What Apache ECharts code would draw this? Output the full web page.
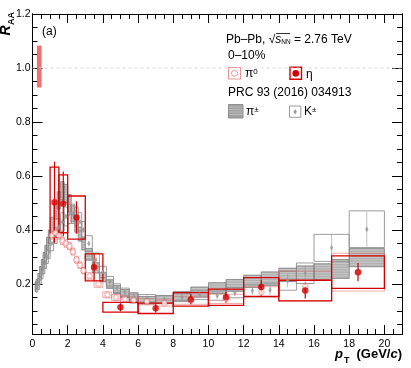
<!DOCTYPE html>
<html>
<head>
<meta charset="utf-8">
<title>RAA eta pi0 PbPb</title>
<script src="https://cdn.jsdelivr.net/npm/echarts@6.0.0/dist/echarts.min.js"></script>
<style>
html, body { margin: 0; padding: 0; background: #fff; }
#chart { width: 411px; height: 368px; }
</style>
</head>
<body>
<div id="chart"></div>
<script>
// eta meson (this measurement)
var etaLo = [1.0, 1.5, 2.0, 3.0, 4.0, 6.0, 8.0, 10.0, 12.0, 14.0, 17.0];
var etaHi = [1.5, 2.0, 3.0, 4.0, 6.0, 8.0, 10.0, 12.0, 14.0, 17.0, 20.0];
var etaR = [0.503, 0.497, 0.446, 0.262, 0.114, 0.110, 0.143, 0.151, 0.189, 0.176, 0.244];
var etaStat = [0.15, 0.12, 0.06, 0.05, 0.015, 0.015, 0.018, 0.02, 0.025, 0.03, 0.034];
var etaSys = [0.13, 0.107, 0.08, 0.05, 0.018, 0.019, 0.025, 0.03, 0.035, 0.038, 0.06];

// pi0
var pi0Lo = [1.0, 1.2, 1.4, 1.6, 1.8, 2.0, 2.2, 2.4, 2.6, 2.8, 3.0, 3.5, 4.0, 4.5, 5.0, 5.5, 6.0, 7.0, 8.0, 10.0, 12.0, 14.0, 17.0];
var pi0Hi = [1.2, 1.4, 1.6, 1.8, 2.0, 2.2, 2.4, 2.6, 2.8, 3.0, 3.5, 4.0, 4.5, 5.0, 5.5, 6.0, 7.0, 8.0, 10.0, 12.0, 14.0, 17.0, 20.0];
var pi0R = [0.38, 0.39, 0.38, 0.36, 0.35, 0.34, 0.32, 0.29, 0.27, 0.25, 0.23, 0.2, 0.16, 0.15, 0.145, 0.14, 0.135, 0.13, 0.14, 0.145, 0.17, 0.193, 0.244];
var pi0Sys = [0.014, 0.014, 0.014, 0.014, 0.014, 0.014, 0.013, 0.013, 0.012, 0.012, 0.012, 0.012, 0.011, 0.011, 0.011, 0.011, 0.012, 0.012, 0.015, 0.017, 0.02, 0.055, 0.07];

// charged pions, PRC 93 (2016) 034913
var piChLo = [0.15, 0.2, 0.3, 0.4, 0.5, 0.6, 0.7, 0.8, 0.9, 1.0, 1.2, 1.4, 1.6, 1.8, 2.0, 2.2, 2.4, 2.6, 2.8, 3.0, 3.4, 3.8, 4.2, 4.6, 5.0, 5.5, 6, 7, 8, 9, 10, 11, 12, 13, 14, 15, 16, 17, 18];
var piChHi = [0.2, 0.3, 0.4, 0.5, 0.6, 0.7, 0.8, 0.9, 1.0, 1.2, 1.4, 1.6, 1.8, 2.0, 2.2, 2.4, 2.6, 2.8, 3.0, 3.4, 3.8, 4.2, 4.6, 5.0, 5.5, 6, 7, 8, 9, 10, 11, 12, 13, 14, 15, 16, 17, 18, 20];
var piChR = [0.19, 0.20, 0.22, 0.245, 0.27, 0.295, 0.32, 0.35, 0.375, 0.42, 0.47, 0.51, 0.545, 0.535, 0.5, 0.46, 0.42, 0.385, 0.35, 0.31, 0.26, 0.225, 0.2, 0.18, 0.165, 0.15, 0.14, 0.142, 0.155, 0.17, 0.185, 0.195, 0.21, 0.22, 0.234, 0.24, 0.245, 0.256, 0.298];
var piChSys = [0.018, 0.018, 0.019, 0.02, 0.021, 0.022, 0.023, 0.024, 0.025, 0.027, 0.03, 0.032, 0.034, 0.034, 0.032, 0.03, 0.028, 0.026, 0.024, 0.022, 0.019, 0.017, 0.016, 0.015, 0.015, 0.014, 0.014, 0.015, 0.017, 0.019, 0.02, 0.022, 0.023, 0.025, 0.025, 0.027, 0.03, 0.035, 0.034];

// charged kaons, PRC 93 (2016) 034913
var kLo = [0.2, 0.3, 0.4, 0.5, 0.6, 0.7, 0.8, 0.9, 1.0, 1.2, 1.4, 1.6, 1.8, 2.0, 2.2, 2.4, 2.6, 2.8, 3.0, 3.4, 3.8, 4.2, 4.6, 5.0, 5.5, 6, 7, 8, 9, 10, 11, 12, 13, 14, 15, 16, 18];
var kHi = [0.3, 0.4, 0.5, 0.6, 0.7, 0.8, 0.9, 1.0, 1.2, 1.4, 1.6, 1.8, 2.0, 2.2, 2.4, 2.6, 2.8, 3.0, 3.4, 3.8, 4.2, 4.6, 5.0, 5.5, 6, 7, 8, 9, 10, 11, 12, 13, 14, 15, 16, 18, 20];
var kR = [0.19, 0.20, 0.22, 0.24, 0.26, 0.28, 0.30, 0.32, 0.35, 0.38, 0.41, 0.43, 0.45, 0.46, 0.46, 0.45, 0.43, 0.40, 0.35, 0.29, 0.245, 0.21, 0.185, 0.17, 0.155, 0.147, 0.143, 0.15, 0.159, 0.157, 0.168, 0.175, 0.178, 0.212, 0.24, 0.334, 0.403];
var kStat = [0.004, 0.004, 0.004, 0.004, 0.004, 0.004, 0.004, 0.004, 0.004, 0.004, 0.005, 0.005, 0.005, 0.005, 0.006, 0.006, 0.006, 0.007, 0.007, 0.007, 0.007, 0.007, 0.007, 0.007, 0.007, 0.007, 0.008, 0.009, 0.01, 0.011, 0.013, 0.015, 0.018, 0.025, 0.03, 0.05, 0.065];
var kSys = [0.02, 0.02, 0.02, 0.021, 0.022, 0.023, 0.024, 0.025, 0.027, 0.03, 0.032, 0.034, 0.035, 0.036, 0.036, 0.035, 0.034, 0.032, 0.029, 0.025, 0.021, 0.018, 0.016, 0.015, 0.014, 0.014, 0.014, 0.015, 0.016, 0.017, 0.019, 0.022, 0.025, 0.035, 0.038, 0.05, 0.068];

// normalisation uncertainty band at R_AA = 1
var normBand = [0.25, 0.52, 0.928, 1.083];

var xMajor = [0, 2, 4, 6, 8, 10, 12, 14, 16, 18, 20];
var yMajor = [0.2, 0.4, 0.6, 0.8, 1.0, 1.2];
var yMin = 0.015, yMax = 1.2;

var xMinor = [];
for (var i = 0; i <= 42; i++) xMinor.push(i * 0.5);
var yMinor = [];
for (var j = 1; j <= 24; j++) yMinor.push(j * 0.05);

function boxes(lo, hi, r, sys) {
    return r.map(function (v, k) { return [lo[k], hi[k], v - sys[k], v + sys[k]]; });
}
function points(lo, hi, r) {
    return r.map(function (v, k) { return [(lo[k] + hi[k]) / 2, v]; });
}
function bars(lo, hi, r, err) {
    return r.map(function (v, k) { return [(lo[k] + hi[k]) / 2, v - err[k], v + err[k]]; });
}

function boxItem(style, hatch) {
    return function (params, api) {
        var a = api.coord([api.value(0), api.value(3)]);
        var b = api.coord([api.value(1), api.value(2)]);
        var x = a[0], y = a[1], w = b[0] - a[0], h = b[1] - a[1];
        var kids = [{ type: 'rect', shape: { x: x, y: y, width: w, height: h }, style: style }];
        if (hatch) {
            for (var yy = y + 1.5; yy < y + h - 0.5; yy += 2.5) {
                kids.push({ type: 'line', shape: { x1: x + 0.5, y1: yy, x2: x + w - 0.5, y2: yy },
                    style: { stroke: 'rgba(255,255,255,0.3)', lineWidth: 1 } });
            }
        }
        return { type: 'group', children: kids };
    };
}
function barItem(color, width) {
    return function (params, api) {
        var a = api.coord([api.value(0), api.value(1)]);
        var b = api.coord([api.value(0), api.value(2)]);
        return { type: 'line', shape: { x1: a[0], y1: a[1], x2: b[0], y2: b[1] },
            style: { stroke: color, lineWidth: width } };
    };
}

function xAx(pos, vals, len, labels) {
    return {
        type: 'value', min: 0, max: 21, position: pos,
        axisLine: { show: true, onZero: false, lineStyle: { color: '#000', width: 1 } },
        splitLine: { show: false },
        axisTick: { show: true, inside: true, length: len, customValues: vals, lineStyle: { color: '#000' } },
        axisLabel: labels ? {
            customValues: xMajor, margin: 5, color: '#000', fontSize: 10.5,
            fontFamily: 'Liberation Sans'
        } : { show: false }
    };
}
function yAx(pos, vals, len, labels) {
    return {
        type: 'value', min: yMin, max: yMax, position: pos,
        axisLine: { show: true, onZero: false, lineStyle: { color: '#000', width: 1 } },
        splitLine: { show: false },
        axisTick: { show: true, inside: true, length: len, customValues: vals, lineStyle: { color: '#000' } },
        axisLabel: labels ? {
            customValues: yMajor, margin: 2, color: '#000', fontSize: 10.5,
            fontFamily: 'Liberation Sans',
            formatter: function (v) { return v.toFixed(1); }
        } : { show: false }
    };
}

var red = '#d40000';
var lightRed = 'rgba(226,90,90,0.5)';
var font = 'Liberation Sans';

var myChart = echarts.init(document.getElementById('chart'));
var option = {
    animation: false,
    grid: { left: 32.5, right: 9, top: 14, bottom: 34, outerBoundsMode: 'none' },
    xAxis: [xAx('bottom', xMajor, 9, true), xAx('top', xMajor, 9, false),
        xAx('bottom', xMinor, 5, false), xAx('top', xMinor, 5, false)],
    yAxis: [yAx('left', yMajor, 10, true), yAx('right', yMajor, 10, false),
        yAx('left', yMinor, 5, false), yAx('right', yMinor, 5, false)],
    series: [
        {
            type: 'line', data: [[0, 1], [21, 1]], symbol: 'none', silent: true,
            lineStyle: { color: '#d5d5d5', width: 1, type: [3, 3] }
        },
        {
            type: 'custom', data: [normBand], encode: { x: [0, 1], y: [2, 3] },
            renderItem: boxItem({ fill: 'rgba(242,85,85,0.85)', stroke: 'none' }, false)
        },
        {
            type: 'custom', data: boxes(piChLo, piChHi, piChR, piChSys), encode: { x: [0, 1], y: [2, 3] },
            renderItem: boxItem({ fill: 'rgba(125,125,125,0.6)', stroke: 'rgba(120,120,120,0.75)', lineWidth: 1 }, true)
        },
        {
            type: 'custom', data: boxes(kLo, kHi, kR, kSys), encode: { x: [0, 1], y: [2, 3] },
            renderItem: boxItem({ fill: 'none', stroke: 'rgba(140,140,140,0.85)', lineWidth: 1 }, false)
        },
        {
            type: 'custom', data: bars(kLo, kHi, kR, kStat), encode: { x: 0, y: [1, 2] },
            renderItem: barItem('rgba(150,150,150,0.6)', 1)
        },
        {
            type: 'scatter', data: points(kLo, kHi, kR), symbol: 'diamond', symbolSize: [3.5, 6],
            itemStyle: { color: '#9a9a9a' }
        },
        {
            type: 'custom', data: boxes(pi0Lo, pi0Hi, pi0R, pi0Sys), encode: { x: [0, 1], y: [2, 3] },
            renderItem: boxItem({ fill: 'none', stroke: lightRed, lineWidth: 1 }, false)
        },
        {
            type: 'scatter', data: points(pi0Lo, pi0Hi, pi0R), symbol: 'emptyCircle', symbolSize: 5,
            itemStyle: { color: 'rgba(226,90,90,0.4)', borderColor: 'rgba(226,90,90,0.4)', borderWidth: 1 }
        },
        {
            type: 'custom', data: boxes(etaLo, etaHi, etaR, etaSys), encode: { x: [0, 1], y: [2, 3] },
            renderItem: boxItem({ fill: 'none', stroke: red, lineWidth: 1.3 }, false)
        },
        {
            type: 'custom', data: bars(etaLo, etaHi, etaR, etaStat), encode: { x: 0, y: [1, 2] },
            renderItem: barItem(red, 1.2)
        },
        {
            type: 'scatter', data: points(etaLo, etaHi, etaR), symbol: 'circle', symbolSize: 6.5,
            itemStyle: { color: red }
        }
    ],
    graphic: {
        elements: [
            { type: 'text', style: { x: 42, y: 32, text: '(a)', fontSize: 12, fontFamily: font, fill: '#000', verticalAlign: 'middle' } },
            {
                type: 'group', x: 13.5, y: 35.5, rotation: Math.PI / 2,
                children: [
                    { type: 'text', style: { x: 0, y: 0, text: 'R', fontSize: 14, fontWeight: 'bold', fontStyle: 'italic', fontFamily: font, fill: '#000', verticalAlign: 'bottom' } },
                    { type: 'text', style: { x: 10.5, y: 3, text: 'AA', fontSize: 9, fontWeight: 'bold', fontFamily: font, fill: '#000', verticalAlign: 'bottom' } }
                ]
            },
            { type: 'text', style: { x: 335, y: 354, text: 'p', fontSize: 13, fontWeight: 'bold', fontStyle: 'italic', fontFamily: font, fill: '#000', verticalAlign: 'middle' } },
            { type: 'text', style: { x: 344, y: 361, text: 'T', fontSize: 9, fontWeight: 'bold', fontFamily: font, fill: '#000', verticalAlign: 'middle' } },
            {
                type: 'text', style: {
                    x: 402, y: 354, text: '(GeV/{c|c})', fontSize: 13, fontWeight: 'bold', fontFamily: font, fill: '#000',
                    align: 'right', verticalAlign: 'middle',
                    rich: { c: { fontSize: 13, fontWeight: 'bold', fontStyle: 'italic', fontFamily: font, fill: '#000' } }
                }
            },
            {
                type: 'text', style: {
                    x: 226, y: 40, text: 'Pb\u2013Pb, \u221A{i|s}{sub|NN} = 2.76 TeV', fontSize: 12, fontFamily: font, fill: '#000',
                    verticalAlign: 'middle',
                    rich: {
                        i: { fontSize: 12, fontStyle: 'italic', fontFamily: font, fill: '#000' },
                        sub: { fontSize: 6.5, fontFamily: font, fill: '#000', verticalAlign: 'bottom', lineHeight: 9 }
                    }
                }
            },
            { type: 'line', shape: { x1: 276, y1: 33.5, x2: 290, y2: 33.5 }, style: { stroke: '#000', lineWidth: 0.8 } },
            { type: 'text', style: { x: 228, y: 56, text: '0\u201310%', fontSize: 12, fontFamily: font, fill: '#000', verticalAlign: 'middle' } },
            { type: 'rect', shape: { x: 228.5, y: 67.5, width: 12, height: 11.5 }, style: { fill: 'none', stroke: 'rgba(226,90,90,0.65)', lineWidth: 1 } },
            { type: 'circle', shape: { cx: 234.5, cy: 73.3, r: 3 }, style: { fill: 'none', stroke: 'rgba(226,90,90,0.65)', lineWidth: 1 } },
            {
                type: 'text', style: {
                    x: 245, y: 74, text: '\u03C0{sup|0}', fontSize: 12, fontFamily: font, fill: '#000', verticalAlign: 'middle',
                    rich: { sup: { fontSize: 8, fontFamily: font, fill: '#000', verticalAlign: 'top', lineHeight: 9 } }
                }
            },
            { type: 'rect', shape: { x: 290, y: 67.3, width: 11.5, height: 12 }, style: { fill: 'none', stroke: red, lineWidth: 1.4 } },
            { type: 'circle', shape: { cx: 295.8, cy: 73.3, r: 3.4 }, style: { fill: red } },
            { type: 'text', style: { x: 306, y: 75, text: '\u03B7', fontSize: 12, fontFamily: font, fill: '#000', verticalAlign: 'middle' } },
            { type: 'text', style: { x: 228, y: 92.5, text: 'PRC 93 (2016) 034913', fontSize: 12, fontFamily: font, fill: '#000', verticalAlign: 'middle' } },
            { type: 'rect', shape: { x: 228.5, y: 104.5, width: 14.5, height: 13.5 }, style: { fill: '#a0a0a0', stroke: '#909090', lineWidth: 1 } },
            { type: 'line', shape: { x1: 229, y1: 107, x2: 242.5, y2: 107 }, style: { stroke: 'rgba(255,255,255,0.3)' } },
            { type: 'line', shape: { x1: 229, y1: 109.5, x2: 242.5, y2: 109.5 }, style: { stroke: 'rgba(255,255,255,0.3)' } },
            { type: 'line', shape: { x1: 229, y1: 112, x2: 242.5, y2: 112 }, style: { stroke: 'rgba(255,255,255,0.3)' } },
            { type: 'line', shape: { x1: 229, y1: 114.5, x2: 242.5, y2: 114.5 }, style: { stroke: 'rgba(255,255,255,0.3)' } },
            {
                type: 'text', style: {
                    x: 246, y: 112, text: '\u03C0{sup|\u00B1}', fontSize: 12, fontFamily: font, fill: '#000', verticalAlign: 'middle',
                    rich: { sup: { fontSize: 8, fontFamily: font, fill: '#000', verticalAlign: 'top', lineHeight: 9 } }
                }
            },
            { type: 'rect', shape: { x: 289.5, y: 106, width: 11.3, height: 11.3 }, style: { fill: '#fff', stroke: '#9a9a9a', lineWidth: 1 } },
            { type: 'polygon', shape: { points: [[295.2, 109], [296.9, 111.7], [295.2, 114.4], [293.5, 111.7]] }, style: { fill: '#9a9a9a' } },
            {
                type: 'text', style: {
                    x: 304, y: 112, text: 'K{sup|\u00B1}', fontSize: 12, fontFamily: font, fill: '#000', verticalAlign: 'middle',
                    rich: { sup: { fontSize: 8, fontFamily: font, fill: '#000', verticalAlign: 'top', lineHeight: 9 } }
                }
            }
        ]
    }
};
myChart.setOption(option);
window.addEventListener('resize', function () {
    myChart.resize();
});
</script>
</body>
</html>
